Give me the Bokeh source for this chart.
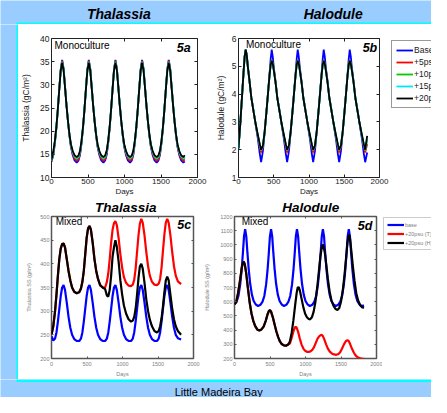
from bokeh.plotting import figure
from bokeh.models import (Range1d, LinearAxis, FixedTicker, Label, Legend,
                          LegendItem, BoxAnnotation)
from bokeh.layouts import row, column
from bokeh.embed import file_html
from bokeh.resources import INLINE

# ---------------- data ----------------
x_ticks = [0, 500, 1000, 1500, 2000]
thal_mono_ticks = [10, 15, 20, 25, 30, 35, 40]
hal_mono_ticks = [1, 2, 3, 4, 5, 6]
thal_mix_ticks = [200, 250, 300, 350, 400, 450, 500]
hal_mix_ticks = [200, 300, 400, 500, 600, 700, 800, 900, 1000, 1100, 1200]
mono_labels = ["Base", "+5psu", "+10psu", "+15psu", "+20psu"]
mix_labels = ["base", "+20psu (T)", "+20psu (H)"]

# 5a  Thalassia monoculture (gC/m2)
days_a = [0, 26, 46, 66, 86, 106, 126, 146, 166, 186, 206, 226, 246, 266, 291, 316,
          346, 371, 391, 411, 431, 451, 471, 491, 511, 531, 551, 571, 591, 611, 631, 656, 681,
          711, 736, 756, 776, 796, 816, 836, 856, 876, 896, 916, 936, 956, 976, 996, 1021, 1046,
          1076, 1101, 1121, 1141, 1161, 1181, 1201, 1221, 1241, 1261, 1281, 1301, 1321, 1341, 1361, 1386, 1411,
          1441, 1466, 1486, 1506, 1526, 1546, 1566, 1586, 1606, 1626, 1646, 1666, 1686, 1706, 1726, 1751, 1776,
          1806, 1825]
thal_mono_base = [13.4, 14.9, 17.3, 20.5, 24.5, 29.0, 33.3, 35.4, 33.5, 29.5, 25.5, 22.0, 19.0, 16.6, 14.8, 13.7,
                  13.2, 13.7, 14.9, 17.3, 20.5, 24.5, 29.0, 33.3, 35.4, 33.5, 29.5, 25.5, 22.0, 19.0, 16.6, 14.8, 13.7,
                  13.2, 13.7, 14.9, 17.3, 20.5, 24.5, 29.0, 33.3, 35.4, 33.5, 29.5, 25.5, 22.0, 19.0, 16.6, 14.8, 13.7,
                  13.2, 13.7, 14.9, 17.3, 20.5, 24.5, 29.0, 33.3, 35.4, 33.5, 29.5, 25.5, 22.0, 19.0, 16.6, 14.8, 13.7,
                  13.2, 13.7, 14.9, 17.3, 20.5, 24.5, 29.0, 33.3, 35.4, 33.5, 29.5, 25.5, 22.0, 19.0, 16.6, 14.8, 13.7,
                  13.2, 13.5]
thal_mono_5 = [13.5, 15.2, 17.5, 20.6, 24.5, 29.0, 33.2, 35.2, 33.4, 29.5, 25.5, 22.0, 19.1, 16.8, 15.1, 14.1,
               13.6, 14.0, 15.2, 17.5, 20.6, 24.5, 29.0, 33.2, 35.2, 33.4, 29.5, 25.5, 22.0, 19.1, 16.8, 15.1, 14.1,
               13.6, 14.0, 15.2, 17.5, 20.6, 24.5, 29.0, 33.2, 35.2, 33.4, 29.5, 25.5, 22.0, 19.1, 16.8, 15.1, 14.1,
               13.6, 14.0, 15.2, 17.5, 20.6, 24.5, 29.0, 33.2, 35.2, 33.4, 29.5, 25.5, 22.0, 19.1, 16.8, 15.1, 14.1,
               13.6, 14.0, 15.2, 17.5, 20.6, 24.5, 29.0, 33.2, 35.2, 33.4, 29.5, 25.5, 22.0, 19.1, 16.8, 15.1, 14.1,
               13.6, 13.9]
thal_mono_10 = [13.6, 15.5, 17.7, 20.7, 24.6, 29.0, 33.1, 35.0, 33.3, 29.4, 25.5, 22.1, 19.2, 17.0, 15.4, 14.5,
                14.0, 14.4, 15.5, 17.7, 20.7, 24.6, 29.0, 33.1, 35.0, 33.3, 29.4, 25.5, 22.1, 19.2, 17.0, 15.4, 14.5,
                14.0, 14.4, 15.5, 17.7, 20.7, 24.6, 29.0, 33.1, 35.0, 33.3, 29.4, 25.5, 22.1, 19.2, 17.0, 15.4, 14.5,
                14.0, 14.4, 15.5, 17.7, 20.7, 24.6, 29.0, 33.1, 35.0, 33.3, 29.4, 25.5, 22.1, 19.2, 17.0, 15.4, 14.5,
                14.0, 14.4, 15.5, 17.7, 20.7, 24.6, 29.0, 33.1, 35.0, 33.3, 29.4, 25.5, 22.1, 19.2, 17.0, 15.4, 14.5,
                14.0, 14.3]
thal_mono_15 = [13.7, 15.6, 17.8, 20.8, 24.6, 29.0, 33.0, 34.9, 33.2, 29.4, 25.5, 22.1, 19.3, 17.1, 15.5, 14.6,
                14.2, 14.6, 15.6, 17.8, 20.8, 24.6, 29.0, 33.0, 34.9, 33.2, 29.4, 25.5, 22.1, 19.3, 17.1, 15.5, 14.6,
                14.2, 14.6, 15.6, 17.8, 20.8, 24.6, 29.0, 33.0, 34.9, 33.2, 29.4, 25.5, 22.1, 19.3, 17.1, 15.5, 14.6,
                14.2, 14.6, 15.6, 17.8, 20.8, 24.6, 29.0, 33.0, 34.9, 33.2, 29.4, 25.5, 22.1, 19.3, 17.1, 15.5, 14.6,
                14.2, 14.6, 15.6, 17.8, 20.8, 24.6, 29.0, 33.0, 34.9, 33.2, 29.4, 25.5, 22.1, 19.3, 17.1, 15.5, 14.6,
                14.2, 14.5]
thal_mono_20 = [13.8, 15.8, 17.9, 20.8, 24.6, 28.9, 33.0, 34.8, 33.1, 29.3, 25.4, 22.1, 19.3, 17.2, 15.7, 14.8,
                14.4, 14.8, 15.8, 17.9, 20.8, 24.6, 28.9, 33.0, 34.8, 33.1, 29.3, 25.4, 22.1, 19.3, 17.2, 15.7, 14.8,
                14.4, 14.8, 15.8, 17.9, 20.8, 24.6, 28.9, 33.0, 34.8, 33.1, 29.3, 25.4, 22.1, 19.3, 17.2, 15.7, 14.8,
                14.4, 14.8, 15.8, 17.9, 20.8, 24.6, 28.9, 33.0, 34.8, 33.1, 29.3, 25.4, 22.1, 19.3, 17.2, 15.7, 14.8,
                14.4, 14.8, 15.8, 17.9, 20.8, 24.6, 28.9, 33.0, 34.8, 33.1, 29.3, 25.4, 22.1, 19.3, 17.2, 15.7, 14.8,
                14.4, 14.8]

# 5b  Halodule monoculture (gC/m2)
days_b = [0, 27, 52, 72, 87, 102, 117, 132, 157, 182, 212, 242, 277, 302,
          321, 346, 371, 396, 421, 441, 456, 471, 486, 501, 526, 551, 581, 611, 646, 671,
          690, 715, 740, 765, 790, 810, 825, 840, 855, 870, 895, 920, 950, 980, 1015, 1040,
          1059, 1084, 1109, 1134, 1159, 1179, 1194, 1209, 1224, 1239, 1264, 1289, 1319, 1349, 1384, 1409,
          1428, 1453, 1478, 1503, 1528, 1548, 1563, 1578, 1593, 1608, 1633, 1658, 1688, 1718, 1753, 1778,
          1797, 1825]
hal_mono_base = [2.05, 3.0, 4.0, 4.8, 5.35, 5.6, 5.4, 5.0, 4.45, 3.87, 3.4, 2.93, 2.35, 1.85,
                 1.55, 1.95, 2.62, 3.35, 4.12, 4.75, 5.25, 5.6, 5.35, 4.95, 4.45, 3.87, 3.4, 2.93, 2.35, 1.85,
                 1.55, 1.95, 2.62, 3.35, 4.12, 4.75, 5.25, 5.6, 5.35, 4.95, 4.45, 3.87, 3.4, 2.93, 2.35, 1.85,
                 1.55, 1.95, 2.62, 3.35, 4.12, 4.75, 5.25, 5.6, 5.35, 4.95, 4.45, 3.87, 3.4, 2.93, 2.35, 1.85,
                 1.55, 1.95, 2.62, 3.35, 4.12, 4.75, 5.25, 5.6, 5.35, 4.95, 4.45, 3.87, 3.4, 2.93, 2.35, 1.85,
                 1.55, 1.9]
hal_mono_5 = [2.05, 3.0, 4.0, 4.8, 5.35, 5.6, 5.4, 5.0, 4.45, 3.87, 3.41, 2.93, 2.45, 2.1,
              1.9, 2.1, 2.65, 3.35, 4.1, 4.7, 5.05, 5.22, 5.12, 4.87, 4.42, 3.87, 3.41, 2.93, 2.45, 2.1,
              1.9, 2.1, 2.65, 3.35, 4.1, 4.7, 5.05, 5.22, 5.12, 4.87, 4.42, 3.87, 3.41, 2.93, 2.45, 2.1,
              1.9, 2.1, 2.65, 3.35, 4.1, 4.7, 5.05, 5.22, 5.12, 4.87, 4.42, 3.87, 3.41, 2.93, 2.45, 2.1,
              1.9, 2.1, 2.65, 3.35, 4.1, 4.7, 5.05, 5.22, 5.12, 4.87, 4.42, 3.87, 3.41, 2.93, 2.45, 2.1,
              1.9, 2.2]
hal_mono_10 = [2.05, 3.0, 4.0, 4.8, 5.35, 5.6, 5.4, 5.0, 4.45, 3.87, 3.42, 2.94, 2.48, 2.16,
               1.97, 2.13, 2.65, 3.35, 4.1, 4.7, 5.05, 5.2, 5.1, 4.85, 4.4, 3.85, 3.42, 2.94, 2.48, 2.16,
               1.97, 2.13, 2.65, 3.35, 4.1, 4.7, 5.05, 5.2, 5.1, 4.85, 4.4, 3.85, 3.42, 2.94, 2.48, 2.16,
               1.97, 2.13, 2.65, 3.35, 4.1, 4.7, 5.05, 5.2, 5.1, 4.85, 4.4, 3.85, 3.42, 2.94, 2.48, 2.16,
               1.97, 2.13, 2.65, 3.35, 4.1, 4.7, 5.05, 5.2, 5.1, 4.85, 4.4, 3.85, 3.42, 2.94, 2.48, 2.16,
               1.97, 2.35]
hal_mono_15 = [2.05, 3.0, 4.0, 4.8, 5.35, 5.6, 5.4, 5.0, 4.45, 3.87, 3.42, 2.95, 2.49, 2.18,
               1.99, 2.14, 2.65, 3.35, 4.1, 4.7, 5.05, 5.2, 5.1, 4.85, 4.4, 3.85, 3.42, 2.95, 2.49, 2.18,
               1.99, 2.14, 2.65, 3.35, 4.1, 4.7, 5.05, 5.2, 5.1, 4.85, 4.4, 3.85, 3.42, 2.95, 2.49, 2.18,
               1.99, 2.14, 2.65, 3.35, 4.1, 4.7, 5.05, 5.2, 5.1, 4.85, 4.4, 3.85, 3.42, 2.95, 2.49, 2.18,
               1.99, 2.14, 2.65, 3.35, 4.1, 4.7, 5.05, 5.2, 5.1, 4.85, 4.4, 3.85, 3.42, 2.95, 2.49, 2.18,
               1.99, 2.4]
hal_mono_20 = [2.05, 3.0, 4.0, 4.8, 5.35, 5.6, 5.4, 5.0, 4.45, 3.87, 3.4, 2.95, 2.5, 2.2,
               2.0, 2.15, 2.65, 3.35, 4.1, 4.7, 5.05, 5.2, 5.1, 4.85, 4.4, 3.85, 3.4, 2.95, 2.5, 2.2,
               2.0, 2.15, 2.65, 3.35, 4.1, 4.7, 5.05, 5.2, 5.1, 4.85, 4.4, 3.85, 3.4, 2.95, 2.5, 2.2,
               2.0, 2.15, 2.65, 3.35, 4.1, 4.7, 5.05, 5.2, 5.1, 4.85, 4.4, 3.85, 3.4, 2.95, 2.5, 2.2,
               2.0, 2.15, 2.65, 3.35, 4.1, 4.7, 5.05, 5.2, 5.1, 4.85, 4.4, 3.85, 3.4, 2.95, 2.5, 2.2,
               2.0, 2.5]

# 5c  Thalassia mixed (SS)
days_c = [0, 25, 50, 70, 90, 110, 130, 150,
          170, 190, 215, 240, 265, 290, 320, 355, 390, 415, 435, 455, 475, 495, 515,
          535, 555, 580, 605, 630, 655, 685, 720, 755, 780, 800, 820, 840, 860, 880,
          900, 920, 945, 970, 995, 1020, 1050, 1085, 1120, 1145, 1165, 1185, 1205, 1225, 1245,
          1265, 1285, 1310, 1335, 1360, 1385, 1415, 1450, 1485, 1510, 1530, 1550, 1570, 1590, 1610,
          1630, 1650, 1675, 1700, 1725, 1750, 1780, 1825]
thal_mix_base = [247, 238, 242, 255, 278, 305, 332, 350,
                 355, 345, 318, 288, 265, 250, 241, 237, 237, 242, 255, 278, 305, 332, 350,
                 355, 345, 318, 288, 265, 250, 241, 237, 237, 242, 255, 278, 305, 332, 350,
                 355, 345, 318, 288, 265, 250, 241, 237, 237, 242, 255, 278, 305, 332, 350,
                 355, 345, 318, 288, 265, 250, 241, 237, 237, 242, 255, 278, 305, 332, 350,
                 355, 345, 318, 288, 265, 250, 243, 240]
thal_mix_20t = [250, 268, 300, 335, 375, 410, 432, 442,
                443, 435, 410, 385, 365, 350, 341, 338, 340, 348, 362, 385, 420, 455, 475,
                480, 472, 445, 410, 385, 368, 355, 350, 350, 362, 380, 410, 445, 472, 486,
                490, 482, 455, 420, 392, 372, 360, 354, 353, 356, 366, 390, 425, 460, 485,
                495, 487, 460, 425, 395, 375, 362, 356, 355, 358, 368, 392, 428, 462, 487,
                495, 487, 460, 425, 395, 375, 363, 357]
thal_mix_20h = [250, 268, 300, 335, 375, 410, 432, 442,
                443, 435, 410, 385, 365, 350, 341, 338, 340, 348, 362, 385, 420, 455, 475,
                480, 472, 445, 410, 385, 368, 355, 350, 347, 333, 331, 345, 375, 415, 435,
                450, 436, 405, 365, 335, 312, 295, 283, 278, 280, 288, 305, 335, 370, 395,
                400, 390, 360, 325, 300, 282, 268, 258, 255, 258, 268, 285, 310, 340, 365,
                373, 365, 335, 305, 283, 268, 258, 250]

# 5d  Halodule mixed (SS)
days_d_base = [0, 30, 55, 80, 100, 118, 134, 150, 166, 182, 200, 220, 245, 270, 300, 332,
               365, 395, 420, 445, 465, 483, 499, 515, 531, 547, 565, 585, 610, 635, 665, 697,
               730, 760, 785, 810, 830, 848, 864, 880, 896, 912, 930, 950, 975, 1000, 1030, 1062,
               1095, 1125, 1150, 1175, 1195, 1213, 1229, 1245, 1261, 1277, 1295, 1315, 1340, 1365, 1395, 1427,
               1460, 1490, 1515, 1540, 1560, 1578, 1594, 1610, 1626, 1642, 1660, 1680, 1705, 1730, 1760, 1792,
               1825]
hal_mix_base = [582, 600, 640, 720, 820, 940, 1060, 1110, 1060, 945, 830, 730, 650, 605, 580, 570,
                578, 600, 640, 720, 820, 940, 1060, 1110, 1060, 945, 830, 730, 650, 605, 580, 570,
                578, 600, 640, 720, 820, 940, 1060, 1110, 1060, 945, 830, 730, 650, 605, 580, 570,
                578, 600, 640, 720, 820, 940, 1060, 1110, 1060, 945, 830, 730, 650, 605, 580, 570,
                578, 600, 640, 720, 820, 940, 1060, 1110, 1060, 945, 830, 730, 650, 605, 580, 570,
                572]
days_d_20t = [0, 25, 50, 75, 100, 115, 130, 145, 165, 190, 215, 240, 265, 290, 320, 350,
              380, 410, 440, 465, 485, 500, 515, 540, 565, 590, 615, 640, 665, 695, 725, 755,
              780, 805, 830, 850, 862, 875, 895, 920, 945, 970, 995, 1020, 1045, 1070, 1095,
              1120, 1145, 1170, 1195, 1215, 1230, 1245, 1265, 1290, 1315, 1340, 1370, 1400, 1435,
              1465, 1490, 1515, 1540, 1565, 1590, 1610, 1630, 1655, 1680, 1705, 1730, 1760, 1790, 1825]
hal_mix_20t = [580, 600, 660, 740, 830, 870, 882, 865, 800, 690, 590, 515, 465, 430, 405, 398,
               405, 425, 465, 510, 535, 540, 530, 490, 440, 390, 350, 320, 302, 292, 290, 298,
               305, 345, 392, 418, 424, 418, 390, 340, 298, 270, 254, 247, 246, 250, 260,
               280, 310, 340, 358, 365, 366, 358, 335, 300, 270, 250, 236, 229, 226,
               232, 246, 270, 298, 320, 330, 322, 300, 268, 242, 222, 210, 203, 199, 197]
days_d_20h = [0, 25, 50, 75, 100, 115, 130, 145, 165, 190, 215, 240, 265, 290, 320, 350,
              380, 410, 440, 465, 485, 500, 515, 540, 565, 590, 615, 640, 665, 695, 725, 755,
              780, 805, 830, 855, 875, 890, 905, 920, 945, 970, 995, 1020, 1045, 1065, 1090,
              1115, 1140, 1165, 1190, 1210, 1230, 1242, 1255, 1275, 1295, 1315, 1340, 1365, 1395,
              1425, 1450, 1475, 1500, 1525, 1550, 1570, 1590, 1605, 1615, 1628, 1645, 1665, 1690,
              1715, 1740, 1770, 1800, 1825]
hal_mix_20h = [580, 600, 660, 740, 830, 870, 882, 865, 800, 690, 590, 515, 465, 430, 405, 398,
               405, 425, 465, 510, 535, 540, 530, 490, 440, 390, 350, 320, 302, 292, 290, 298,
               320, 380, 470, 580, 660, 700, 702, 680, 620, 560, 515, 490, 478, 476, 490,
               530, 600, 700, 820, 920, 985, 1002, 990, 935, 850, 760, 670, 610, 570,
               548, 542, 555, 600, 680, 790, 900, 1010, 1065, 1070, 1040, 960, 860, 750,
               660, 610, 575, 560, 558]

# ---------------- style ----------------
BG = "#99ccff"
CYAN = "#00ffff"
FONT = "Liberation Sans"
C_BLUE, C_RED, C_GREEN, C_CYAN, C_BLACK = "#0000ff", "#ff0000", "#00cc00", "#00e5ff", "#000000"
MONO_COLORS = [C_BLUE, C_RED, C_GREEN, C_CYAN, C_BLACK]
MIX_COLORS = [C_BLUE, C_RED, C_BLACK]


def style_axis(ax, ticks, font_size, color, line_color, tick_in, standoff, label_standoff,
               show_labels=True):
    ax.ticker = FixedTicker(ticks=ticks)
    ax.major_tick_in = tick_in
    ax.major_tick_out = 0
    ax.minor_tick_line_color = None
    ax.axis_line_color = None
    ax.major_tick_line_color = line_color
    ax.major_label_text_font = FONT
    if show_labels:
        ax.major_label_text_color = color
        ax.major_label_text_font_size = font_size
        ax.major_label_standoff = standoff
    else:
        ax.major_label_text_color = None
        ax.major_label_text_font_size = "1px"
        ax.major_label_standoff = 0
    ax.axis_label_text_font = FONT
    ax.axis_label_text_font_size = font_size
    ax.axis_label_text_font_style = "normal"
    ax.axis_label_text_color = color
    ax.axis_label_standoff = label_standoff


def panel(width, height, left, right, top, bottom, yr, yticks, ylabel, small,
          y_label_standoff):
    outline = "#555555" if small else "#222222"
    p = figure(width=width, height=height, output_backend="svg", toolbar_location=None,
               x_range=Range1d(0, 2000), y_range=Range1d(*yr),
               min_border_left=left, min_border_right=right,
               min_border_top=top, min_border_bottom=bottom,
               background_fill_color="white", border_fill_color="white",
               outline_line_color=outline, outline_line_width=1.5 if small else 1)
    p.xgrid.visible = False
    p.ygrid.visible = False
    fs_y = "5.5px" if small else "8.5px"
    fs_x = "5.5px" if small else "8px"
    col = "#808080" if small else "#1a1a1a"
    tick_in = 2 if small else 3
    p.xaxis.axis_label = "Days"
    p.yaxis.axis_label = ylabel
    style_axis(p.below[0], x_ticks, fs_x, col, outline, tick_in, 3 if small else 1, 2 if small else 0)
    style_axis(p.left[0], yticks, fs_y, col, outline, tick_in, 2, y_label_standoff)
    ra = LinearAxis()
    style_axis(ra, yticks, fs_y, col, outline, tick_in, 0, 0, show_labels=False)
    p.add_layout(ra, "right")
    ta = LinearAxis()
    style_axis(ta, x_ticks, fs_x, col, outline, tick_in, 0, 0, show_labels=False)
    p.add_layout(ta, "above")
    return p


def add_label(p, x, y, text, size, style="normal", align="left"):
    p.add_layout(Label(x=x, y=y, text=text, text_font=FONT, text_font_size=size,
                       text_font_style=style, text_align=align, text_baseline="middle",
                       text_color="black"))


def plain(w, h, bg, yflip=True, border_top=0):
    s = figure(width=w, height=h, output_backend="svg", toolbar_location=None,
               x_range=Range1d(0, w), y_range=Range1d(h, 0) if yflip else Range1d(0, h),
               min_border=0, min_border_top=border_top, x_axis_type=None, y_axis_type=None,
               background_fill_color=bg, border_fill_color=bg, outline_line_color=None)
    s.xgrid.visible = False
    s.ygrid.visible = False
    return s


def legend_box(w, h, border_top, margin, series_x, series_y, colors, labels, font_size,
               text_color, border_color, row_h, pad, width):
    lf = plain(w, h, "white", yflip=False, border_top=border_top)
    rends = []
    for xs, ys, c in zip(series_x, series_y, colors):
        rends.append(lf.line(xs, ys, line_color=c, line_width=width, visible=False))
    leg = Legend(items=[LegendItem(label=l, renderers=[r]) for l, r in zip(labels, rends)],
                 location="top_left", margin=margin, padding=pad, spacing=2,
                 label_height=row_h, glyph_height=row_h, glyph_width=17, label_standoff=1,
                 label_text_font=FONT, label_text_font_size=font_size,
                 label_text_color=text_color,
                 border_line_color=border_color, border_line_width=1,
                 background_fill_color="white", background_fill_alpha=1,
                 inactive_fill_alpha=0)
    lf.add_layout(leg)
    return lf


# ---- 5a ----
pa = panel(194, 174, 33, 15, 11, 19, (10, 40), thal_mono_ticks, "Thalassia (gC/m²)", False, 6)
for ys, c in zip([thal_mono_base, thal_mono_5, thal_mono_10, thal_mono_15, thal_mono_20], MONO_COLORS):
    pa.line(days_a, ys, line_color=c, line_width=1.8)
add_label(pa, 41, 38.4, "Monoculture", "10px")
add_label(pa, 1907, 37.9, "5a", "12.5px", "bold italic", "right")

# ---- 5b ----
hal_mono = [hal_mono_base, hal_mono_5, hal_mono_10, hal_mono_15, hal_mono_20]
pb = panel(177, 174, 22, 10, 11, 19, (1, 6), hal_mono_ticks, "Halodule (gC/m²)", False, 3)
for ys, c in zip(hal_mono, MONO_COLORS):
    pb.line(days_b, ys, line_color=c, line_width=1.8)
add_label(pb, 106, 5.77, "Monoculture", "10px")
add_label(pb, 1968, 5.65, "5b", "12.5px", "bold italic", "right")
lb = legend_box(42, 174, 14, 2, [days_b] * 5, hal_mono, MONO_COLORS, mono_labels,
                "8.5px", "#1a1a1a", "#333333", 10, 4, 1.8)

# ---- titles of the lower row ----
tstrip = plain(413, 16, "white")
add_label(tstrip, 107.3, 8.5, "Thalassia", "13.5px", "bold italic", "center")
add_label(tstrip, 292.2, 8.5, "Halodule", "13.5px", "bold italic", "center")

# ---- 5c ----
pc = panel(183, 165, 33, 8, 1, 18, (200, 500), thal_mix_ticks, "Thalassia SS (g/m²)", True, 5)
pc.line(days_c, thal_mix_base, line_color=C_BLUE, line_width=2.2)
pc.line(days_c, thal_mix_20t, line_color=C_RED, line_width=2.2)
pc.line(days_c, thal_mix_20h, line_color=C_BLACK, line_width=2.2)
add_label(pc, 59, 489, "Mixed", "10px")
add_label(pc, 1966, 483, "5c", "12.5px", "bold italic", "right")

# ---- 5d ----
pd_ = panel(181, 165, 31, 6, 1, 18, (200, 1200), hal_mix_ticks, "Halodule SS (g/m²)", True, 7)
pd_.line(days_d_base, hal_mix_base, line_color=C_BLUE, line_width=2.2)
pd_.line(days_d_20t, hal_mix_20t, line_color=C_RED, line_width=2.2)
pd_.line(days_d_20h, hal_mix_20h, line_color=C_BLACK, line_width=2.2)
add_label(pd_, 102, 1165, "Mixed", "10px")
add_label(pd_, 1943, 1130, "5d", "12.5px", "bold italic", "right")
ld = legend_box(49, 165, 2, 1, [days_d_base, days_d_20t, days_d_20h],
                [hal_mix_base, hal_mix_20t, hal_mix_20h], MIX_COLORS, mix_labels,
                "5.5px", "#808080", "#999999", 7, 3, 2.2)

# ---------------- decorative strips ----------------
top = plain(431, 24, BG)
top.add_layout(BoxAnnotation(left=16, right=431, top=22, bottom=24, fill_color=CYAN,
                             fill_alpha=1, line_color=None))
add_label(top, 118.3, 13.5, "Thalassia", "14px", "bold italic", "center")
add_label(top, 332.7, 13.5, "Halodule", "14px", "bold italic", "center")

left = plain(18, 355, BG)
left.add_layout(BoxAnnotation(left=16, right=18, top=0, bottom=355, fill_color=CYAN,
                              fill_alpha=1, line_color=None))

bottom = plain(431, 18, BG)
bottom.add_layout(BoxAnnotation(left=16, right=431, top=0, bottom=2.6, fill_color=CYAN,
                                fill_alpha=1, line_color=None))
add_label(bottom, 218.2, 12.2, "Little Madeira Bay", "11px", "normal", "center")

content = column(row(pa, pb, lb), tstrip, row(pc, pd_, ld))
page = column(top, row(left, content), bottom)

open("out.html", "w").write(file_html(page, INLINE))
